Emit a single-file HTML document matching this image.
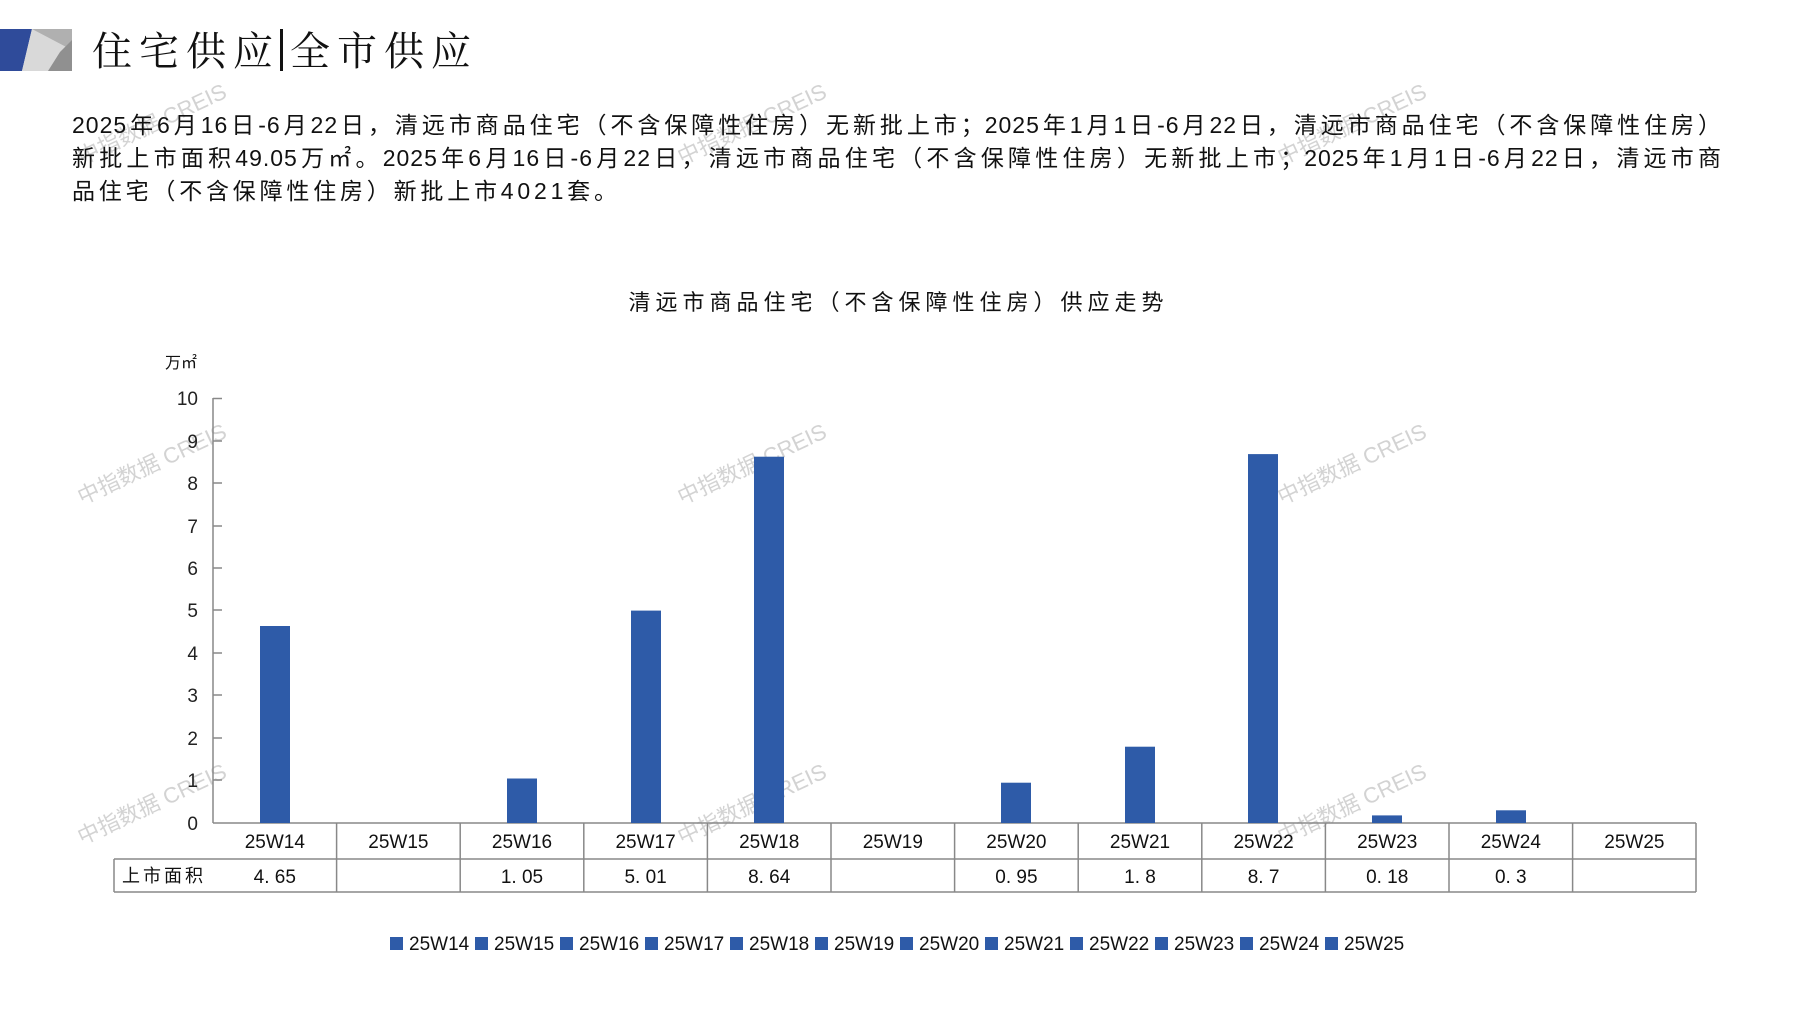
<!DOCTYPE html>
<html><head><meta charset="utf-8"><style>
body{margin:0;background:#fff;width:1797px;height:1010px;overflow:hidden;position:relative;font-family:"Liberation Sans","Noto Sans CJK SC",sans-serif;color:#111}
.a{position:absolute;white-space:nowrap}
.p{position:absolute;left:72px;width:1650px;font-size:23px;line-height:33px;letter-spacing:1px;white-space:nowrap}
.j{text-align:justify;text-align-last:justify}
</style></head><body>
<svg class="a" style="left:0;top:0" width="1797" height="1010">
<polygon points="0,29 32,29 22,71 0,71" fill="#2F4B9A"/>
<polygon points="32,29 72,29 72,71 22,71" fill="#D9D9D9"/>
<polygon points="32,29 72,29 72,50" fill="#B0B0B0"/>
<polygon points="72,40 72,71 48,71 60,52" fill="#909090"/>
<g font-family="Liberation Sans,Noto Sans CJK SC,sans-serif" font-size="22" fill="#c8c8c8" opacity="0.8">
<text transform="translate(82,505) rotate(-25)">中指数据 CREIS</text>
<text transform="translate(82,845) rotate(-25)">中指数据 CREIS</text>
<text transform="translate(682,505) rotate(-25)">中指数据 CREIS</text>
<text transform="translate(682,845) rotate(-25)">中指数据 CREIS</text>
<text transform="translate(1282,505) rotate(-25)">中指数据 CREIS</text>
<text transform="translate(1282,845) rotate(-25)">中指数据 CREIS</text>
<text transform="translate(82,165) rotate(-25)">中指数据 CREIS</text>
<text transform="translate(682,165) rotate(-25)">中指数据 CREIS</text>
<text transform="translate(1282,165) rotate(-25)">中指数据 CREIS</text>
</g>
<g stroke="#888" stroke-width="1.5" fill="none">
<line x1="213" y1="398" x2="213" y2="823"/>
<line x1="213" y1="398.5" x2="222" y2="398.5"/><line x1="213" y1="441" x2="222" y2="441"/><line x1="213" y1="483" x2="222" y2="483"/><line x1="213" y1="526" x2="222" y2="526"/><line x1="213" y1="568" x2="222" y2="568"/><line x1="213" y1="610" x2="222" y2="610"/><line x1="213" y1="653" x2="222" y2="653"/><line x1="213" y1="695" x2="222" y2="695"/><line x1="213" y1="738" x2="222" y2="738"/><line x1="213" y1="780" x2="222" y2="780"/>
<line x1="213" y1="823" x2="1696" y2="823"/>
<line x1="114" y1="859" x2="1696" y2="859"/>
<line x1="114" y1="892" x2="1696" y2="892"/>
<line x1="114" y1="859" x2="114" y2="892"/>
<line x1="1696" y1="823" x2="1696" y2="892"/>
<line x1="336.6" y1="823" x2="336.6" y2="892"/><line x1="460.2" y1="823" x2="460.2" y2="892"/><line x1="583.8" y1="823" x2="583.8" y2="892"/><line x1="707.4" y1="823" x2="707.4" y2="892"/><line x1="831" y1="823" x2="831" y2="892"/><line x1="954.6" y1="823" x2="954.6" y2="892"/><line x1="1078.2" y1="823" x2="1078.2" y2="892"/><line x1="1201.8" y1="823" x2="1201.8" y2="892"/><line x1="1325.4" y1="823" x2="1325.4" y2="892"/><line x1="1449" y1="823" x2="1449" y2="892"/><line x1="1572.6" y1="823" x2="1572.6" y2="892"/>
</g>
<g fill="#2E5BA8">
<rect x="260" y="626" width="30" height="197"/>
<rect x="507" y="778.5" width="30" height="44.5"/>
<rect x="631" y="610.6" width="30" height="212.4"/>
<rect x="754" y="456.7" width="30" height="366.3"/>
<rect x="1001" y="782.7" width="30" height="40.3"/>
<rect x="1125" y="746.7" width="30" height="76.3"/>
<rect x="1248" y="454.1" width="30" height="368.9"/>
<rect x="1372" y="815.4" width="30" height="7.6"/>
<rect x="1496" y="810.3" width="30" height="12.7"/>
</g>
<g font-size="19" fill="#222" text-anchor="end" font-family="Liberation Sans,sans-serif">
<text x="198" y="405">10</text><text x="198" y="448">9</text><text x="198" y="490">8</text><text x="198" y="533">7</text><text x="198" y="575">6</text><text x="198" y="617">5</text><text x="198" y="660">4</text><text x="198" y="702">3</text><text x="198" y="745">2</text><text x="198" y="787">1</text><text x="198" y="830">0</text>
</g>
<g font-size="19" fill="#111" text-anchor="middle" font-family="Liberation Sans,Noto Sans CJK SC,sans-serif">
<text x="274.8" y="848">25W14</text><text x="398.4" y="848">25W15</text><text x="522" y="848">25W16</text><text x="645.6" y="848">25W17</text><text x="769.2" y="848">25W18</text><text x="892.8" y="848">25W19</text><text x="1016.4" y="848">25W20</text><text x="1140" y="848">25W21</text><text x="1263.6" y="848">25W22</text><text x="1387.2" y="848">25W23</text><text x="1510.8" y="848">25W24</text><text x="1634.4" y="848">25W25</text>
<text x="274.8" y="883">4. 65</text><text x="522" y="883">1. 05</text><text x="645.6" y="883">5. 01</text><text x="769.2" y="883">8. 64</text><text x="1016.4" y="883">0. 95</text><text x="1140" y="883">1. 8</text><text x="1263.6" y="883">8. 7</text><text x="1387.2" y="883">0. 18</text><text x="1510.8" y="883">0. 3</text>
<text x="164" y="882" font-size="18" letter-spacing="3">上市面积</text>
</g>
<g font-size="19" fill="#111" font-family="Liberation Sans,sans-serif">
<rect x="390" y="937" width="13" height="13" fill="#2E5BA8"/><text x="409" y="950">25W14</text>
<rect x="475" y="937" width="13" height="13" fill="#2E5BA8"/><text x="494" y="950">25W15</text>
<rect x="560" y="937" width="13" height="13" fill="#2E5BA8"/><text x="579" y="950">25W16</text>
<rect x="645" y="937" width="13" height="13" fill="#2E5BA8"/><text x="664" y="950">25W17</text>
<rect x="730" y="937" width="13" height="13" fill="#2E5BA8"/><text x="749" y="950">25W18</text>
<rect x="815" y="937" width="13" height="13" fill="#2E5BA8"/><text x="834" y="950">25W19</text>
<rect x="900" y="937" width="13" height="13" fill="#2E5BA8"/><text x="919" y="950">25W20</text>
<rect x="985" y="937" width="13" height="13" fill="#2E5BA8"/><text x="1004" y="950">25W21</text>
<rect x="1070" y="937" width="13" height="13" fill="#2E5BA8"/><text x="1089" y="950">25W22</text>
<rect x="1155" y="937" width="13" height="13" fill="#2E5BA8"/><text x="1174" y="950">25W23</text>
<rect x="1240" y="937" width="13" height="13" fill="#2E5BA8"/><text x="1259" y="950">25W24</text>
<rect x="1325" y="937" width="13" height="13" fill="#2E5BA8"/><text x="1344" y="950">25W25</text>
</g>
</svg>
<div class="a" style="left:92px;top:20px;font-size:40px;letter-spacing:7px;font-family:'Noto Serif CJK SC','Noto Sans CJK SC',serif">住宅供应<span style="display:inline-block;width:3px;height:42px;background:#111;vertical-align:-6px;margin:0 7px 0 0"></span>全市供应</div>
<div class="p j" style="top:109px">2025年6月16日-6月22日，清远市商品住宅（不含保障性住房）无新批上市；2025年1月1日-6月22日，清远市商品住宅（不含保障性住房）</div>
<div class="p j" style="top:142px">新批上市面积49.05万㎡。2025年6月16日-6月22日，清远市商品住宅（不含保障性住房）无新批上市；2025年1月1日-6月22日，清远市商</div>
<div class="p" style="top:175px;letter-spacing:3.8px">品住宅（不含保障性住房）新批上市4021套。</div>
<div class="a" style="left:0;width:1797px;text-align:center;top:285px;font-size:22px;letter-spacing:5px">清远市商品住宅（不含保障性住房）供应走势</div>
<div class="a" style="left:165px;top:349px;font-size:16px">万㎡</div>
</body></html>
